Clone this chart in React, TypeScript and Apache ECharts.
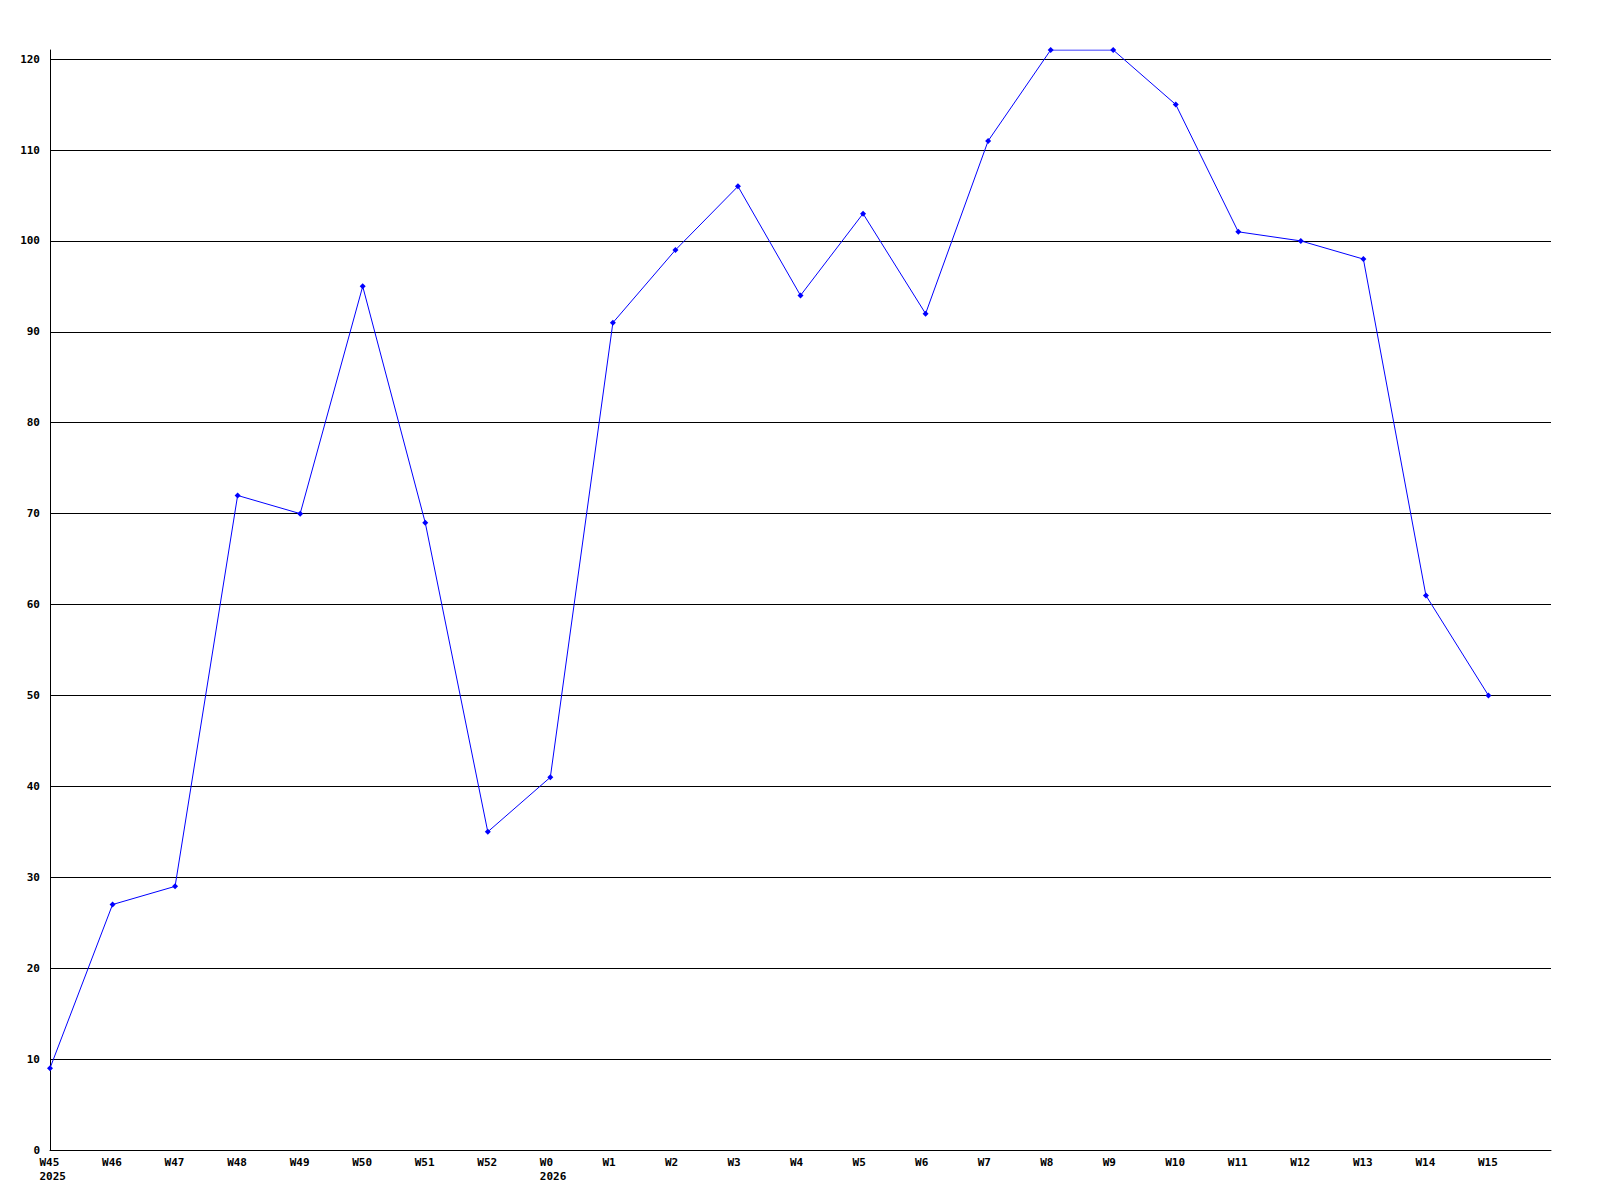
import React, { useEffect, useRef } from "react";
import * as echarts from "echarts";

const weeks = ["W45", "W46", "W47", "W48", "W49", "W50", "W51", "W52", "W0", "W1", "W2", "W3", "W4", "W5", "W6", "W7", "W8", "W9", "W10", "W11", "W12", "W13", "W14", "W15", ""];
const years: Record<string, string> = { W45: "2025", W0: "2026" };
const values = [9, 27, 29, 72, 70, 95, 69, 35, 41, 91, 99, 106, 94, 103, 92, 111, 121, 121, 115, 101, 100, 98, 61, 50];
const yMax = 121;
const yInterval = 10;

export default function App() {
  const ref = useRef<HTMLDivElement>(null);
  useEffect(() => {
    document.body.style.margin = "0";
    const chart = echarts.init(ref.current!, null, { renderer: "svg" });
    const font = "'DejaVu Sans Mono', monospace";
    chart.setOption({
      animation: false,
      backgroundColor: "#ffffff",
      grid: { left: 50, top: 50, right: 49, bottom: 50, containLabel: false },
      xAxis: {
        type: "category",
        data: weeks,
        boundaryGap: false,
        axisLine: { show: true, lineStyle: { color: "#000", width: 1 } },
        axisTick: { show: false },
        splitLine: { show: false },
        axisLabel: {
          interval: 0,
          margin: 5,
          align: "center",
          color: "#000",
          fontFamily: font,
          fontWeight: "bold",
          fontSize: 11,
          lineHeight: 14,
          formatter: (v: string) => {
            if (!v) return "";
            const y = years[v];
            return y ? `{a|${v}}\n{a|${y}}` : `{a|${v}}`;
          },
          rich: {
            a: { width: 21, align: "left", fontFamily: font, fontWeight: "bold", fontSize: 11, lineHeight: 14, color: "#000" },
          },
        },
      },
      yAxis: {
        type: "value",
        min: 0,
        max: yMax,
        interval: yInterval,
        axisLine: { show: true, lineStyle: { color: "#000", width: 1 } },
        axisTick: { show: false },
        splitLine: { show: true, showMinLine: false, showMaxLine: false, lineStyle: { color: "#000", width: 1 } },
        axisLabel: {
          margin: 10,
          showMaxLabel: false,
          color: "#000",
          fontFamily: font,
          fontWeight: "bold",
          fontSize: 11,
          formatter: (v: number) => (v % 10 === 0 ? String(v) : ""),
        },
      },
      series: [
        {
          type: "line",
          data: values,
          symbol: "diamond",
          symbolSize: 6,
          showAllSymbol: true,
          lineStyle: { color: "#0000ff", width: 1 },
          itemStyle: { color: "#0000ff" },
        },
      ],
    });
    return () => chart.dispose();
  }, []);
  return <div ref={ref} style={{ width: 1600, height: 1200 }} />;
}
